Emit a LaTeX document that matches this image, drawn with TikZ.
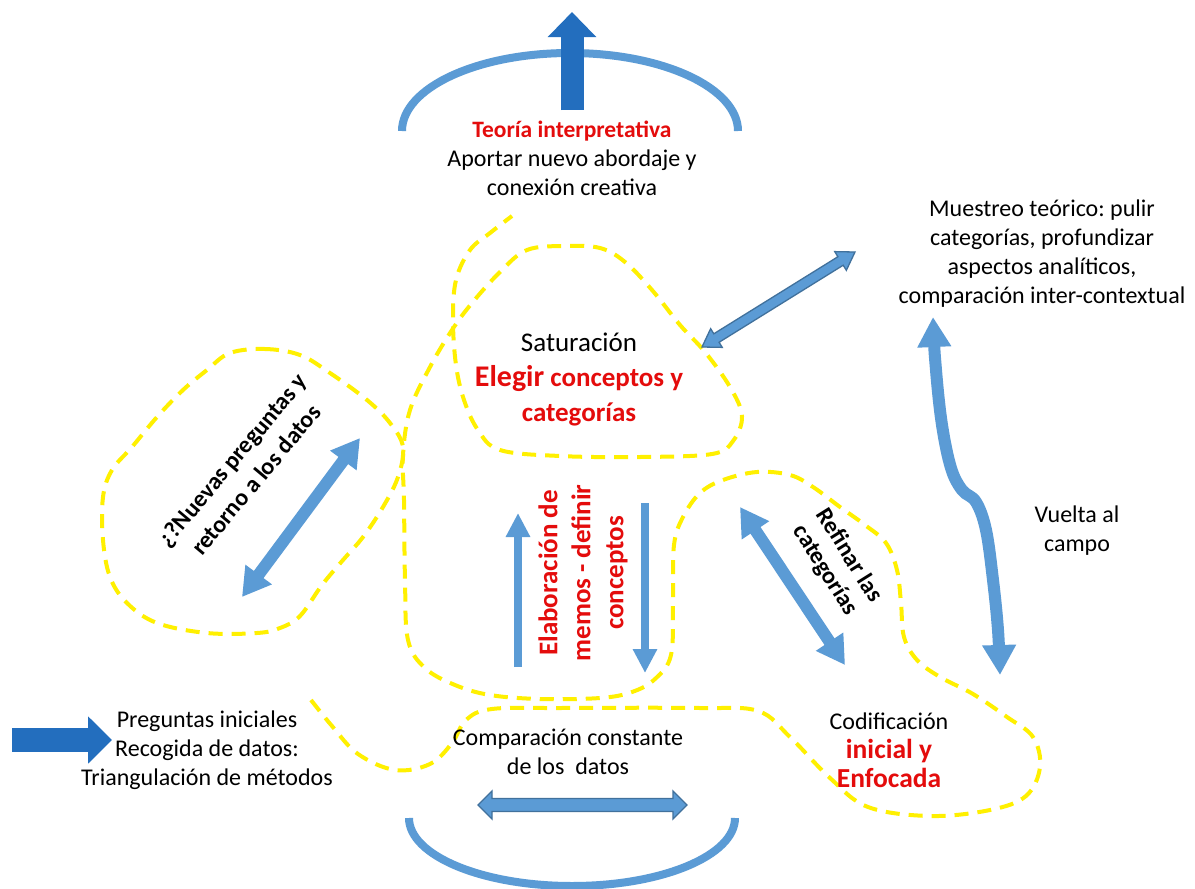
\documentclass[tikz,border=0pt]{standalone}
\usepackage{fontspec}
\setmainfont{Carlito}
\usetikzlibrary{arrows.meta,calc}
\frenchspacing

\definecolor{lightblue}{RGB}{91,155,213}
\definecolor{deepblue}{RGB}{35,110,190}
\definecolor{edgeblue}{RGB}{65,113,156}
\definecolor{hiyellow}{RGB}{255,240,0}
\definecolor{headred}{RGB}{228,12,12}

\tikzset{
  plain/.style={align=center, inner sep=0pt, font=\fontsize{24}{29}\selectfont},
  boundary/.style={draw=hiyellow, line width=4pt, dash pattern=on 14pt off 9pt},
  ring/.style={draw=lightblue, line width=8pt},
  bigarrow/.style={draw=deepblue, line width=24pt, -{Triangle[width=47pt,length=25pt]}},
  thinarrow/.style={draw=lightblue, line width=8pt, -{Triangle[width=23pt,length=24pt]}},
  twoway/.style={draw=lightblue, line width=12pt,
    {Triangle[width=31pt,length=28pt]}-{Triangle[width=31pt,length=28pt]}},
  framedarrow/.style={fill=lightblue, draw=edgeblue, line width=1.3pt, line join=miter},
}

% double-headed block arrow between two named points:
% #1,#2 tips, #3 half shaft width, #4 half head width, #5 head length
\newcommand\framedtwoway[5]{%
  \filldraw[framedarrow]
    (#1)
    -- ($(#1)!#5!(#2)!#4!90:(#2)$)
    -- ($(#1)!#5!(#2)!#3!90:(#2)$)
    -- ($(#2)!#5!(#1)!#3!-90:(#1)$)
    -- ($(#2)!#5!(#1)!#4!-90:(#1)$)
    -- (#2)
    -- ($(#2)!#5!(#1)!#4!90:(#1)$)
    -- ($(#2)!#5!(#1)!#3!90:(#1)$)
    -- ($(#1)!#5!(#2)!#3!-90:(#2)$)
    -- ($(#1)!#5!(#2)!#4!-90:(#2)$)
    -- cycle;}

\begin{document}
\begin{tikzpicture}[x=1pt,y=-1pt]
\fill[white] (0,0) rectangle (1195,889);
\useasboundingbox (0,0) rectangle (1195,889);

% ---- dashed yellow boundaries ----
\draw[boundary] plot[smooth cycle, tension=0.6] coordinates {
  (230,353) (265,349) (300,355) (330,373) (367,400) (390,423) (403,447)
  (398,477) (383,507) (363,537) (343,560) (322,585) (300,616) (280,628)
  (257,633) (207,633) (157,623) (127,603) (110,577) (103,540) (103,497)
  (112,470) (132,447) (157,417) (183,390) (207,370)};

\draw[boundary] plot[smooth, tension=0.6] coordinates {
  (311,700) (332,726) (358,754) (395,770) (430,764) (452,743) (466,720)
  (492,709) (560,708) (700,708) (758,711) (790,737) (830,778) (868,807)
  (930,816) (990,810) (1026,796) (1040,767) (1033,737) (1007,717) (973,694)
  (940,677) (917,660) (904,637) (901,603) (897,570) (886,543) (865,525)
  (840,507) (813,487) (790,475) (757,472) (723,480) (700,493) (683,517)
  (674,545) (673,600) (671,655) (655,679) (632,692) (600,698) (540,699)
  (490,695) (455,685) (425,668) (408,640) (405,580) (404,500) (403,455)
  (410,410) (430,367) (452,330) (472,303) (500,272) (527,250) (565,246)
  (600,248) (625,262) (652,290) (680,325) (705,352) (730,387) (742,416)
  (733,441) (712,454) (640,457) (560,456) (500,450) (478,430) (464,400)
  (456,365) (453,320) (456,280) (470,250) (490,233) (512,216)};

% ---- blue arcs above and below ----
\draw[ring] (402,131) arc[start angle=180, end angle=360, x radius=168, y radius=78];
\draw[ring] (409,818) arc[start angle=180, end angle=0, x radius=163, y radius=68];

% ---- text blocks ----
\node[plain] (teoria) at (572,158)
  {{\fontsize{23.5}{29}\selectfont\bfseries\color{headred}Teoría interpretativa}\\
   Aportar nuevo abordaje y\\conexión creativa};
\node[plain] (muestreo) at (1042,254)
  {Muestreo teórico: pulir\\categorías, profundizar\\aspectos analíticos,\\comparación inter-contextual};
\node[plain, font=\fontsize{27}{35}\selectfont] (saturacion) at (579,379)
  {Saturación\\
   {\bfseries\color{headred}{\fontsize{30}{35}\selectfont Elegir} conceptos y}\\
   {\bfseries\color{headred}categorías}};
\node[plain] (vuelta) at (1077,531) {Vuelta al\\campo};
\node[plain] (preguntas) at (207,750)
  {Preguntas iniciales\\Recogida de datos:\\Triangulación de métodos};
\node[plain] (comparacion) at (568,752) {Comparación constante\\de los\ \ datos};
\node[plain] (codificacion) at (889,750)
  {Codificación\\
   {\fontsize{27.5}{33}\selectfont\bfseries\color{headred}inicial y}\\
   {\fontsize{27.5}{33}\selectfont\bfseries\color{headred}Enfocada}};
\node[plain, font=\fontsize{27}{33}\selectfont\bfseries, text=headred, rotate=90]
  (elaboracion) at (583,573) {Elaboración de\\memos - definir\\conceptos};
\node[plain, font=\fontsize{24}{31}\selectfont\bfseries, rotate=50]
  (nuevas) at (244,470) {¿?Nuevas preguntas y\\retorno a los datos};
\node[plain, font=\fontsize{24}{28}\selectfont\bfseries, rotate=-58]
  (refinar) at (837,563) {Refinar las\\categorías};

% ---- arrow end points ----
\coordinate (topfoot) at (572,110);
\coordinate (toptip) at (572,12);
\coordinate (infoot) at (12,740);
\coordinate (intip) at (112,740);
\coordinate (upfoot) at (518,667);
\coordinate (uptip) at (518,513);
\coordinate (downfoot) at (645,503);
\coordinate (downtip) at (645,673);
\coordinate (loopA) at (242,597);
\coordinate (loopB) at (360,438);
\coordinate (refA) at (740,507);
\coordinate (refB) at (845,665);
\coordinate (satA) at (702,347);
\coordinate (satB) at (855,252);
\coordinate (cmpA) at (478,805);
\coordinate (cmpB) at (687,805);

% ---- arrows ----
\draw[bigarrow, line width=23pt] (topfoot) -- (toptip);
\draw[bigarrow, -{Triangle[width=46pt,length=24pt]}] (infoot) -- (intip);
\draw[thinarrow] (upfoot) -- (uptip);
\draw[thinarrow] (downfoot) -- (downtip);
\draw[twoway] (loopA) -- (loopB);
\draw[twoway] (refA) -- (refB);
\framedtwoway{satA}{satB}{5pt}{11pt}{17pt}
\framedtwoway{cmpA}{cmpB}{6.5pt}{14pt}{14pt}

% field loop arrow
\draw[draw=lightblue, line width=12pt,
      {Triangle[width=32pt,length=30pt]}-{Triangle[width=32pt,length=30pt]}]
  plot[smooth, tension=0.6] coordinates {
  (933,317) (936,370) (942,425) (951,468) (962,490) (976,502) (986,530)
  (993,580) (998,630) (1000,675)};
\end{tikzpicture}
\end{document}
